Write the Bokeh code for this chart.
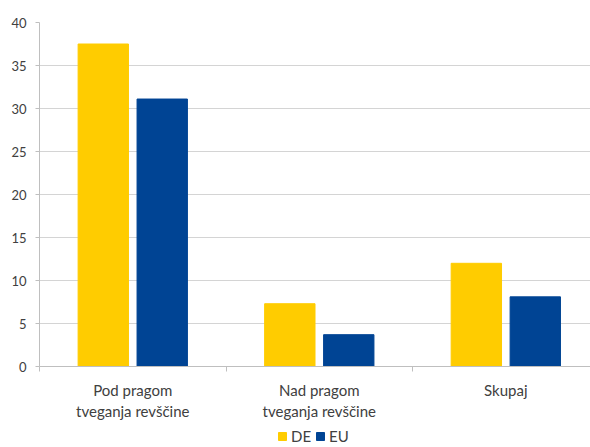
from bokeh.plotting import figure
from bokeh.layouts import column
from bokeh.models import (ColumnDataSource, FixedTicker, Legend, LegendItem, Range1d)
from bokeh.transform import dodge
from bokeh.embed import file_html
from bokeh.resources import INLINE

categories = ["Pod pragom\ntveganja revščine", "Nad pragom\ntveganja revščine", "Skupaj"]
de_values = [37.5, 7.3, 12.0]
eu_values = [31.1, 3.7, 8.1]
series_names = ["DE", "EU"]
series_colors = ["#FFCC00", "#004494"]
y_ticks = [0, 5, 10, 15, 20, 25, 30, 35, 40]

centers = [i + 0.5 for i in range(len(categories))]
bounds = list(range(len(categories) + 1))

src = ColumnDataSource(dict(x=centers, de=de_values, eu=eu_values))

p = figure(output_backend="svg", toolbar_location=None,
           width=590, height=424,
           x_range=Range1d(0, 2.954), y_range=Range1d(0, 40),
           min_border_left=39, min_border_right=0, min_border_top=22,
           min_border_bottom=58, outline_line_color=None)

r_de = p.vbar(x=dodge("x", -0.158, range=p.x_range), top="de", width=0.27,
              source=src, fill_color=series_colors[0], line_color=series_colors[0])
r_eu = p.vbar(x=dodge("x", 0.158, range=p.x_range), top="eu", width=0.27,
              source=src, fill_color=series_colors[1], line_color=series_colors[1])

font = "Lato"
# x axis
p.xaxis.ticker = FixedTicker(ticks=centers, minor_ticks=bounds)
p.xaxis.major_label_overrides = {c: lab for c, lab in zip(centers, categories)}
p.xaxis.major_tick_out = 0
p.xaxis.major_tick_in = 0
p.xaxis.minor_tick_out = 5
p.xaxis.minor_tick_in = 0
p.xaxis.minor_tick_line_color = "#bfbfbf"
p.xaxis.axis_line_color = "#bfbfbf"
p.xaxis.major_label_standoff = 9
p.xaxis.major_label_text_font = font
p.xaxis.major_label_text_font_size = "15px"
p.xaxis.major_label_text_color = "#404040"
p.xgrid.grid_line_color = None

# y axis
p.yaxis.ticker = FixedTicker(ticks=y_ticks)
p.yaxis.major_tick_out = 4
p.yaxis.major_tick_in = 0
p.yaxis.major_tick_line_color = "#bfbfbf"
p.yaxis.axis_line_color = "#bfbfbf"
p.yaxis.major_label_standoff = 9
p.yaxis.major_label_text_font = font
p.yaxis.major_label_text_font_size = "13px"
p.yaxis.major_label_text_color = "#404040"
p.ygrid.grid_line_color = "#d4d4d4"

# legend strip below the chart (its bars lie outside the strip's visible range)
p_leg = figure(output_backend="svg", toolbar_location=None,
               width=590, height=23, x_range=Range1d(100, 101), y_range=Range1d(100, 101),
               x_axis_location=None, y_axis_location=None,
               outline_line_color=None, min_border=0)
p_leg.grid.visible = False
l_de = p_leg.vbar(x="x", top="de", width=0.27, source=src,
                  fill_color=series_colors[0], line_color=series_colors[0])
l_eu = p_leg.vbar(x="x", top="eu", width=0.27, source=src,
                  fill_color=series_colors[1], line_color=series_colors[1])
legend = Legend(items=[LegendItem(label=series_names[0], renderers=[l_de]),
                       LegendItem(label=series_names[1], renderers=[l_eu])],
                orientation="horizontal", location=(238, 2),
                glyph_width=10, glyph_height=10, padding=0, margin=0,
                spacing=4, label_standoff=4, border_line_color=None,
                background_fill_alpha=0,
                label_text_font=font, label_text_font_size="15px",
                label_text_color="#404040", label_height=14)
p_leg.add_layout(legend, "center")

layout = column(p, p_leg, spacing=0)
open("out.html", "w").write(file_html(layout, INLINE))
